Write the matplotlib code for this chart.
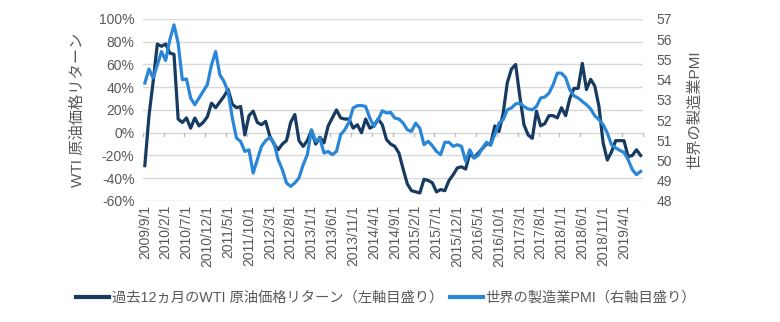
import numpy as np
import pandas as pd
import matplotlib
matplotlib.use("Agg")
import matplotlib.pyplot as plt

plt.rcParams['font.family'] = ['Liberation Sans', 'Noto Sans CJK JP', 'DejaVu Sans']

# 月次データ 2009/9 - 2019/8
dates = pd.date_range('2009-09-01', periods=120, freq='MS')
date_labels = [f"{d.year}/{d.month}/1" for d in dates]

wti_return = [
    -29, 15, 45, 78, 76, 78, 70, 69, 12, 9,
    13, 4, 13, 6, 9, 14, 26, 22, 27, 32,
    38, 25, 22, 23, -2, 15, 19, 9, 7, 10,
    -3, -10, -15, -10, -7, 9, 16, -7, -12, -7,
    2, -10, -4, -9, 6, 13, 20, 13, 12, 12,
    4, 7, 0, 12, 4, 6, 12, 7, -6, -10,
    -12, -18, -32, -45, -51, -52, -53, -41, -42, -44,
    -52, -50, -51, -42, -37, -31, -30, -32, -18, -22,
    -18, -14, -10, -10, 6, 1, 17, 44, 56, 60,
    32, 7, -2, -5, 19, 6, 8, 15, 15, 13,
    22, 15, 30, 39, 39, 61, 38, 47, 41, 23,
    -9, -24, -17, -7, -7, -7, -21, -20, -15, -20,
]

global_pmi = [
    53.83, 54.52, 54.08, 54.73, 55.39, 54.95, 55.97, 56.71, 55.8, 54.0,
    54.03, 53.09, 52.76, 53.09, 53.42, 53.75, 54.73, 55.39, 54.24, 53.91,
    53.4, 52.1, 51.11, 50.94, 50.45, 50.53, 49.38, 50.04, 50.7, 50.98,
    51.14, 50.87, 50.04, 49.55, 48.89, 48.72, 48.89, 49.14, 49.79, 50.29,
    51.52, 50.95, 51.11, 50.37, 50.45, 50.29, 50.45, 51.28, 51.52, 51.9,
    52.6, 52.71, 52.72, 52.67, 52.1, 51.69, 52.02, 52.46, 52.35, 52.38,
    52.1, 52.05, 51.85, 51.52, 51.44, 51.85, 51.6, 50.78, 50.95, 50.73,
    50.45, 50.29, 50.9, 50.9, 50.7, 50.78, 50.7, 49.96, 50.53, 50.12,
    50.25, 50.6, 50.9, 50.75, 51.3, 51.85, 52.02, 52.51, 52.6, 52.8,
    52.84, 52.67, 52.55, 52.51, 52.67, 53.09, 53.14, 53.33, 53.75, 54.32,
    54.32, 54.1, 53.5, 53.2, 53.09, 52.92, 52.76, 52.55, 52.21, 52.02,
    51.77, 51.36, 50.78, 50.62, 50.5, 50.4, 50.04, 49.55, 49.3, 49.46,
]

dark = '#163a60'
light = '#2a86d6'
grey = '#595959'

x = np.arange(len(dates))

fig = plt.figure(figsize=(7.8, 3.22), dpi=100)
ax1 = fig.add_axes([0.183, 0.376, 0.641, 0.565])
ax2 = ax1.twinx()

ax1.plot(x, wti_return, color=dark, lw=2.3, label='過去12ヵ月のWTI 原油価格リターン（左軸目盛り）', zorder=3)
ax2.plot(x, global_pmi, color=light, lw=2.3, label='世界の製造業PMI（右軸目盛り）', zorder=3)

ax1.set_xlim(-0.5, len(x) - 0.5)
ax1.set_ylim(-60, 100)
ax2.set_ylim(48, 57)
ax1.set_yticks(np.arange(-60, 101, 20))
ax1.set_yticklabels([f"{v}%" for v in range(-60, 101, 20)])
ax2.set_yticks(np.arange(48, 58, 1))

# グリッド
for v in range(-60, 101, 20):
    ax1.axhline(v, color='#d9d9d9', lw=1, zorder=0)
# 0%の軸の目盛り
for t in np.arange(-0.5, len(x), 5):
    ax1.plot([t, t], [0, -2.5], color='#bfbfbf', lw=1, zorder=1, clip_on=False)

ax1.set_xticks(x[::5])
ax1.set_xticklabels(date_labels[::5], rotation=90, fontsize=9.5, color=grey)

for ax in (ax1, ax2):
    for s in ax.spines.values():
        s.set_visible(False)
    ax.tick_params(length=0, labelsize=10, colors=grey)
ax1.tick_params(axis='x', pad=3)
ax1.tick_params(axis='y', pad=6)
ax2.tick_params(axis='y', pad=10)

ax1.set_ylabel('WTI 原油価格リターン', fontsize=11, color=grey, labelpad=10)
ax2.set_ylabel('世界の製造業PMI', fontsize=11, color=grey, labelpad=11)

h1, l1 = ax1.get_legend_handles_labels()
h2, l2 = ax2.get_legend_handles_labels()
leg = fig.legend(h1 + h2, l1 + l2, loc='center', bbox_to_anchor=(0.495, 0.075), ncol=2,
                 frameon=False, fontsize=10.3, handlelength=2.3, handletextpad=0.2,
                 columnspacing=0.5, labelcolor=grey)
for line in leg.get_lines():
    line.set_linewidth(3)

fig.savefig('out.png', dpi=100)
